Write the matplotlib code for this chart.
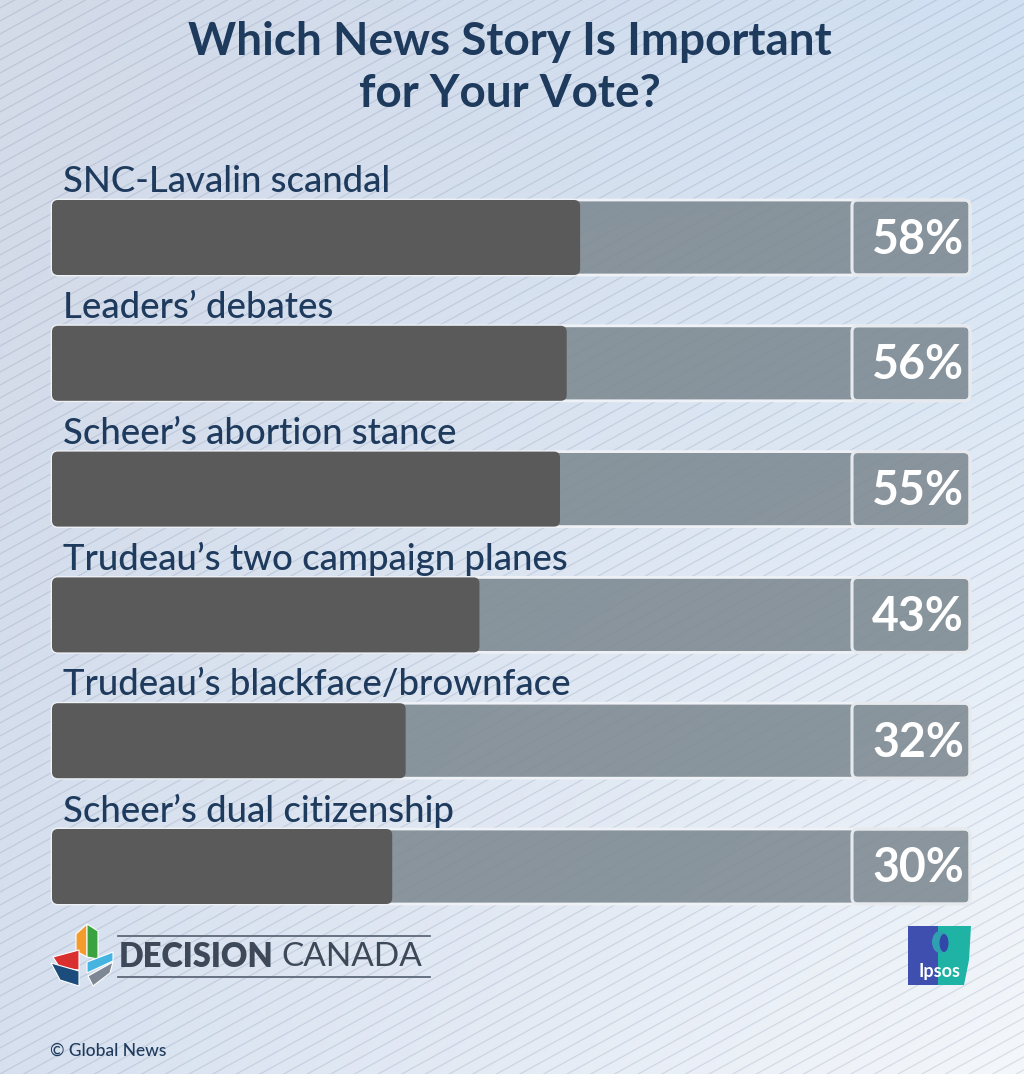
"""
Ipsos / Global News poll: which news story is important for your vote.
"""

import numpy as np
import matplotlib
matplotlib.use('Agg')
import matplotlib.pyplot as plt
from matplotlib.patches import FancyBboxPatch, Polygon, Rectangle, Ellipse

# data
stories = ['SNC-Lavalin scandal', 'Leaders\u2019 debates', 'Scheer\u2019s abortion stance',
           'Trudeau\u2019s two campaign planes', 'Trudeau\u2019s blackface/brownface',
           'Scheer\u2019s dual citizenship']
shares = [58, 56, 55, 43, 32, 30]
title = 'Which News Story Is Important\nfor Your Vote?'

NAVY = '#1e3a5c'
DARK = '#5a5a5a'
TRACK = '#7d8991'
W, H = 1024, 1074
FONT = 'Lato'

fig = plt.figure(figsize=(W / 100, H / 100), dpi=100)

# background in pixel coordinates
bg = fig.add_axes([0, 0, 1, 1])
bg.set_xlim(0, W)
bg.set_ylim(H, 0)
bg.axis('off')

# soft gradient: grey-lavender on the left, light blue on the right, near white bottom right
xx, yy = np.meshgrid(np.linspace(0, 1, 256), np.linspace(0, 1, 256))
tl = np.array([211, 218, 232]) / 255
tr = np.array([208, 224, 242]) / 255
bl = np.array([214, 224, 239]) / 255
br = np.array([244, 247, 251]) / 255
grad = (tl * ((1 - xx) * (1 - yy))[..., None] + tr * (xx * (1 - yy))[..., None]
        + bl * ((1 - xx) * yy)[..., None] + br * (xx * yy)[..., None])
bg.imshow(grad, extent=(0, W, H, 0), aspect='auto', zorder=0)

# diagonal hatch lines
slope = 0.55
for c in np.arange(-200, H + W * slope + 200, 13):
    bg.plot([0, W], [c, c - W * slope], color='#56698a', alpha=0.17, lw=0.9, zorder=1)

bg.text(510, 68, title, ha='center', va='center', fontsize=33, fontweight='bold',
        color=NAVY, family=FONT, linespacing=1.3)

# bars
row_gap = 125.8
top_c, bot_c = 237.5, 866.5
ax = fig.add_axes([52 / W, 1 - (bot_c + row_gap / 2) / H, 918 / W,
                   (bot_c - top_c + row_gap) / H], zorder=2)
xmin, xmax = -20.7, 116.1
ax.set_xlim(xmin, xmax)
ax.set_ylim(len(stories) - 0.5, -0.5)
ax.axis('off')
ax.patch.set_alpha(0)

xpp = (xmax - xmin) / 918          # x units per pixel
ypp = 1 / row_gap                  # y units per pixel
asp = ypp / xpp
bar_h = 75 * ypp
r = 6 * xpp
box_left = xmin + 800 * xpp

for i, (name, val) in enumerate(zip(stories, shares)):
    y0 = i - bar_h / 2
    ax.add_patch(FancyBboxPatch((xmin, y0), xmax - xmin, bar_h,
                                boxstyle=f'round,pad=0,rounding_size={r}', mutation_aspect=asp,
                                fc=TRACK, alpha=0.88, ec='none', clip_on=False))
    ax.add_patch(FancyBboxPatch((xmin, y0), xmax - xmin, bar_h,
                                boxstyle=f'round,pad=0,rounding_size={r}', mutation_aspect=asp,
                                fc='none', ec='#eef1f5', lw=2, clip_on=False))
    ax.add_patch(FancyBboxPatch((xmin, y0), val - xmin, bar_h,
                                boxstyle=f'round,pad=0,rounding_size={r}', mutation_aspect=asp,
                                fc=DARK, ec='none', clip_on=False))
    ax.add_patch(FancyBboxPatch((box_left, y0), xmax - box_left, bar_h,
                                boxstyle=f'round,pad=0,rounding_size={r}', mutation_aspect=asp,
                                fc='none', ec='#e6eaee', lw=2.2, clip_on=False))
    ax.text(xmax - 6 * xpp, i + 2 * ypp, f'{val}%', ha='right', va='center', fontsize=33.5,
            fontweight='bold', color='white', family=FONT)
    ax.text(xmin + 11 * xpp, i - 56 * ypp, name, ha='left', va='center', fontsize=26.3,
            fontweight='medium', color=NAVY, family=FONT, clip_on=False)

# Decision Canada logo (maple leaf pieces)
leaf = [
    ([76, 934], [87, 924], [87, 957], [76, 951], '#f39c2c'),
    ([87, 924], [98, 931], [98, 959], [87, 957], '#3aa33f'),
    ([53, 957], [79, 950], [79, 970], [60, 968], '#d92f2f'),
    ([51, 963], [79, 971], [79, 986], [60, 980], '#1c4c7c'),
    ([87, 962], [113, 952], [113, 961], [87, 973], '#46b4e0'),
    ([88, 976], [113, 962], [110, 973], [93, 986], '#7e8794'),
]
for a, b, c, d, col in leaf:
    bg.add_patch(Polygon([a, b, c, d], closed=True, fc=col, ec='white', lw=0.8, zorder=3))
bg.plot([118, 430], [936, 936], color='#5c6778', lw=1.3, zorder=3)
bg.plot([118, 430], [977, 977], color='#5c6778', lw=1.3, zorder=3)
bg.text(119, 957, 'DECISION', ha='left', va='center', fontsize=23.5, fontweight='heavy',
        color='#3d4859', family=FONT, zorder=3)
bg.text(281, 957, 'CANADA', ha='left', va='center', fontsize=24, fontweight='normal',
        color='#3d4859', family=FONT, zorder=3)

# Ipsos logo
bg.add_patch(Rectangle((908, 926), 30, 59, fc='#3f4fb0', ec='none', zorder=3))
bg.add_patch(Polygon([[938, 926], [971, 926], [969, 960], [964, 985], [938, 985]],
                     closed=True, fc='#1fb3a6', ec='none', zorder=3))
bg.add_patch(Ellipse((940, 942), 16, 22, fc='#2fa0b0', ec='none', zorder=3))
bg.add_patch(Ellipse((944, 943), 9, 18, fc='#3148a8', ec='none', zorder=3))
bg.text(939, 971, 'Ipsos', ha='center', va='center', fontsize=13, fontweight='bold',
        color='white', family=FONT, zorder=4)

bg.text(50, 1051, '\u00a9 Global News', ha='left', va='center', fontsize=12.5,
        fontweight='medium', color=NAVY, family=FONT)

fig.savefig('out.png', dpi=100)
